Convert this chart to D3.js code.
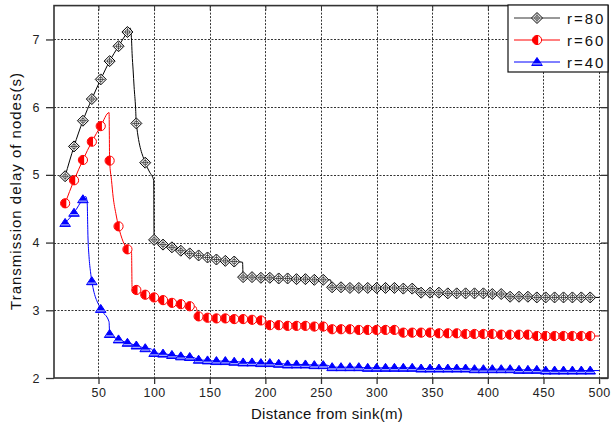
<!DOCTYPE html>
<html>
<head>
<meta charset="utf-8">
<script src="https://cdn.jsdelivr.net/npm/d3@7"></script>
<style>
  body { margin: 0; background: #fff; }
  svg { display: block; font-family: "Liberation Sans", Arial, sans-serif; }
</style>
</head>
<body>
<svg class="chart" width="611" height="428"></svg>
<script>
// distance of each marker from the sink (m)
const distances = [20, 28, 36, 44, 52, 60, 68, 76, 84, 92,
  100, 108, 116, 124, 132, 140, 148, 156, 164, 172,
  180, 188, 196, 204, 212, 220, 228, 236, 244, 252,
  260, 268, 276, 284, 292, 300, 308, 316, 324, 332,
  340, 348, 356, 364, 372, 380, 388, 396, 404, 412,
  420, 428, 436, 444, 452, 460, 468, 476, 484, 492];

// transmission delay (s) at each marker
const r80 = [4.98, 5.42, 5.80, 6.12, 6.41, 6.68, 6.90, 7.11, 5.76, 5.18,
  4.04, 3.97, 3.93, 3.88, 3.84, 3.81, 3.78, 3.75, 3.73, 3.72,
  3.49, 3.49, 3.48, 3.48, 3.47, 3.47, 3.46, 3.46, 3.45, 3.45,
  3.34, 3.34, 3.33, 3.33, 3.33, 3.33, 3.33, 3.33, 3.32, 3.32,
  3.26, 3.26, 3.26, 3.25, 3.25, 3.25, 3.25, 3.25, 3.24, 3.24,
  3.20, 3.20, 3.20, 3.19, 3.19, 3.19, 3.19, 3.19, 3.19, 3.19];

const r60 = [4.58, 4.92, 5.22, 5.49, 5.72, 5.21, 4.24, 3.90, 3.30, 3.23,
  3.19, 3.15, 3.11, 3.09, 3.06, 2.91, 2.89, 2.88, 2.88, 2.87,
  2.87, 2.86, 2.85, 2.78, 2.78, 2.77, 2.77, 2.77, 2.76, 2.76,
  2.72, 2.72, 2.72, 2.71, 2.71, 2.71, 2.71, 2.71, 2.67, 2.67,
  2.67, 2.67, 2.66, 2.66, 2.66, 2.65, 2.65, 2.65, 2.65, 2.64,
  2.64, 2.64, 2.64, 2.62, 2.62, 2.62, 2.62, 2.62, 2.62, 2.62];

const r40 = [4.29, 4.44, 4.64, 3.43, 3.02, 2.65, 2.57, 2.52, 2.48, 2.44,
  2.37, 2.36, 2.34, 2.32, 2.31, 2.27, 2.26, 2.25, 2.25, 2.24,
  2.23, 2.23, 2.22, 2.22, 2.21, 2.20, 2.20, 2.20, 2.19, 2.19,
  2.16, 2.16, 2.16, 2.16, 2.15, 2.15, 2.15, 2.15, 2.15, 2.15,
  2.14, 2.14, 2.14, 2.14, 2.14, 2.14, 2.13, 2.13, 2.13, 2.13,
  2.13, 2.12, 2.12, 2.12, 2.11, 2.11, 2.11, 2.11, 2.11, 2.11];

// extra line vertices between markers (peaks, drops, steps, end of line)
const r80Bends = [[78.5, 7.17], [79.7, 6.99], [80.2, 6.79], [81.1, 6.55], [82, 6.30], [83.3, 6.0],
  [96, 5.04], [99.6, 4.92], [179.5, 3.71], [258.5, 3.45], [338.5, 3.32], [417.5, 3.24], [500, 3.19]];
const r60Bends = [[59.5, 5.92], [61.7, 4.92], [63.2, 4.67], [65.6, 4.43], [79.7, 3.86], [80.2, 3.33],
  [137.5, 3.05], [200.5, 2.85], [257.5, 2.76], [321.5, 2.71], [500, 2.62]];
const r40Bends = [[38.6, 4.68], [39.8, 4.6], [40.5, 4.1], [41.5, 3.79], [42.8, 3.57],
  [59.5, 2.83], [97.5, 2.43], [136, 2.30], [176, 2.24], [216, 2.21], [255, 2.19], [500, 2.11]];

const seriesNames = ["r=80", "r=60", "r=40"];
const seriesColors = ["#000000", "#ff0000", "#0000ff"];

const xTicks = [50, 100, 150, 200, 250, 300, 350, 400, 450, 500];
const yTicks = [2, 3, 4, 5, 6, 7];

const svg = d3.select(".chart");

const plotLeft = 54, plotRight = 608, plotTop = 5.6, plotBottom = 378;

const x = d3.scaleLinear().domain([10, 508]).range([plotLeft, plotRight]);
const y = d3.scaleLinear().domain([2, 7.5]).range([plotBottom, plotTop]);

svg.append("rect")
  .attr("width", 611).attr("height", 428).attr("fill", "white");

// grid
const grid = svg.append("g")
  .attr("stroke", "#333")
  .attr("stroke-width", 1)
  .attr("stroke-dasharray", "2,1.5");

grid.selectAll(".vgrid").data(xTicks).join("line")
  .attr("x1", d => Math.round(x(d)) + 0.5).attr("x2", d => Math.round(x(d)) + 0.5)
  .attr("y1", plotTop).attr("y2", plotBottom);

grid.selectAll(".hgrid").data(yTicks.filter(d => d > 2)).join("line")
  .attr("y1", d => Math.round(y(d)) + 0.5).attr("y2", d => Math.round(y(d)) + 0.5)
  .attr("x1", plotLeft).attr("x2", plotRight);

// axes
const xAxis = d3.axisBottom(x).tickValues(xTicks).tickSize(6).tickPadding(4);
const yAxis = d3.axisLeft(y).tickValues(yTicks).tickSize(8).tickPadding(6)
  .tickFormat(d3.format("d"));

const gx = svg.append("g")
  .attr("transform", `translate(0, ${plotBottom})`)
  .call(xAxis);
const gy = svg.append("g")
  .attr("transform", `translate(${plotLeft}, 0)`)
  .call(yAxis);

[gx, gy].forEach(g => {
  g.select(".domain").remove();
  g.selectAll(".tick line").attr("stroke", "#333").attr("stroke-width", 1.3);
  g.selectAll(".tick text")
    .attr("fill", "#222")
    .style("font-size", "12.5px")
    .style("letter-spacing", "0.5px");
});

// inner ticks on top and right
svg.append("g").call(d3.axisTop(x).tickValues(xTicks).tickSize(-5).tickFormat(""))
  .attr("transform", `translate(0, ${plotTop})`)
  .call(g => g.select(".domain").remove())
  .selectAll("line").attr("stroke", "#333");
svg.append("g").call(d3.axisRight(y).tickValues(yTicks).tickSize(-7).tickFormat(""))
  .attr("transform", `translate(${plotRight}, 0)`)
  .call(g => g.select(".domain").remove())
  .selectAll("line").attr("stroke", "#333").attr("stroke-width", 1.3);

// frame
svg.append("rect")
  .attr("x", plotLeft).attr("y", plotTop)
  .attr("width", plotRight - plotLeft).attr("height", plotBottom - plotTop)
  .attr("fill", "none")
  .attr("stroke", "#333")
  .attr("stroke-width", 1.6);

// marker shapes
function drawMarker(g, i) {
  if (i === 0) {
    g.append("path").attr("d", "M0,-5.5L5.5,0L0,5.5L-5.5,0Z")
      .attr("fill", "white").attr("stroke", "black").attr("stroke-width", 1);
    g.append("circle").attr("r", 2.3)
      .attr("fill", "none").attr("stroke", "black").attr("stroke-width", 0.6);
    g.append("path").attr("d", "M0,-4.5V4.5M-4.5,0H4.5")
      .attr("stroke", "black").attr("stroke-width", 0.6);
  } else if (i === 1) {
    g.append("circle").attr("r", 4.6)
      .attr("fill", "white").attr("stroke", "red").attr("stroke-width", 1);
    g.append("path").attr("d", "M1.2,-4.5A4.6,4.6 0 1 0 1.2,4.5Z")
      .attr("fill", "red");
  } else {
    g.append("path").attr("d", "M0,-4.5L5.3,3.5L-5.3,3.5Z")
      .attr("fill", "blue").attr("stroke", "blue").attr("stroke-width", 1);
    g.append("path").attr("d", "M-3.6,1.2H3.6L4.4,2.5H-4.4Z")
      .attr("fill", "#9fa8ff");
  }
}

const line = d3.line()
  .x(d => x(d[0]))
  .y(d => y(d[1]))
  .curve(d3.curveMonotoneX);

const seriesValues = [r80, r60, r40];
const seriesBends = [r80Bends, r60Bends, r40Bends];

seriesValues.forEach((vals, i) => {
  const pts = distances.map((d, k) => [d, vals[k]]);
  const linePts = pts.concat(seriesBends[i]).sort((a, b) => a[0] - b[0]);

  svg.append("path")
    .datum(linePts)
    .attr("d", line)
    .attr("fill", "none")
    .attr("stroke", seriesColors[i])
    .attr("stroke-width", 1);

  const marks = svg.append("g");
  pts.forEach(p => {
    const m = marks.append("g")
      .attr("transform", `translate(${x(p[0])}, ${y(p[1])})`);
    drawMarker(m, i);
  });
});

// legend
const legend = svg.append("g");
legend.append("rect")
  .attr("x", 508).attr("y", 5)
  .attr("width", 100).attr("height", 67)
  .attr("fill", "white")
  .attr("stroke", "#111")
  .attr("stroke-width", 1.2);

seriesNames.forEach((name, i) => {
  const ly = 18 + i * 22;
  legend.append("line")
    .attr("x1", 514).attr("x2", 560)
    .attr("y1", ly).attr("y2", ly)
    .attr("stroke", seriesColors[i] === "#000000" ? "#333" : seriesColors[i])
    .attr("stroke-width", 1);
  drawMarker(legend.append("g").attr("transform", `translate(537, ${ly})`), i);
  legend.append("text")
    .attr("x", 567).attr("y", ly + 5.5)
    .attr("fill", "#111")
    .style("font-size", "15px")
    .style("letter-spacing", "2px")
    .text(name);
});

// axis titles
svg.append("text")
  .attr("x", 327).attr("y", 419)
  .attr("text-anchor", "middle")
  .attr("fill", "#111")
  .style("font-size", "15px")
  .style("letter-spacing", "0.3px")
  .text("Distance from sink(m)");

svg.append("text")
  .attr("transform", "translate(21, 191) rotate(-90)")
  .attr("text-anchor", "middle")
  .attr("fill", "#111")
  .style("font-size", "15px")
  .style("letter-spacing", "1px")
  .text("Transmission delay of nodes(s)");
</script>
</body>
</html>
